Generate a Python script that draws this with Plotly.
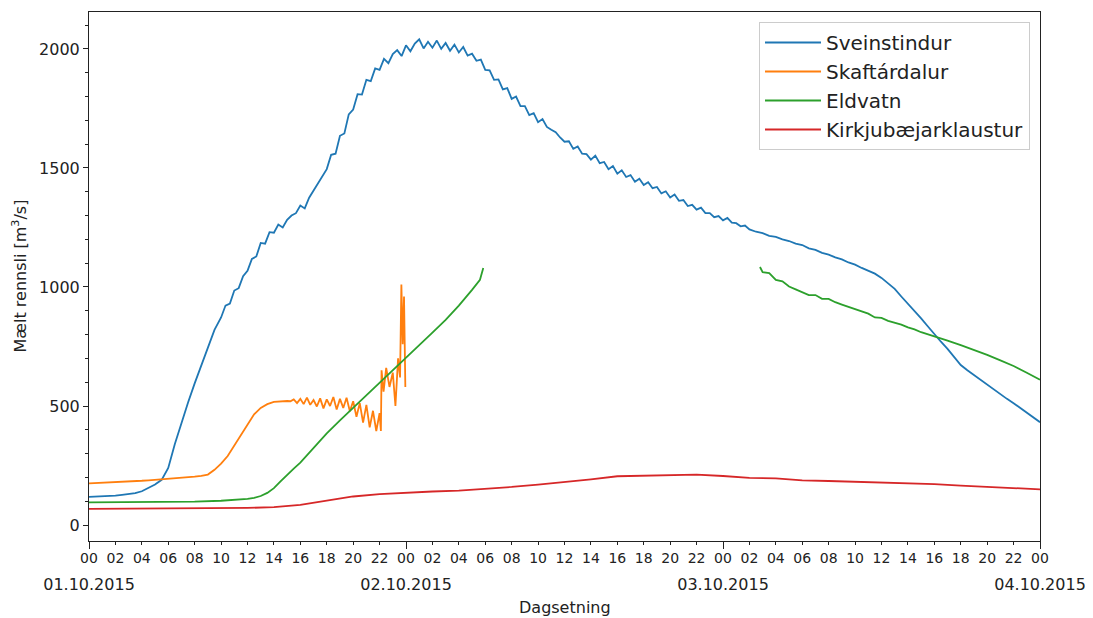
import pandas as pd
import plotly.graph_objects as go

START = pd.Timestamp("2015-10-01 00:00")
END = pd.Timestamp("2015-10-04 00:00")

# Sveinstindur: readings (sampling: 30 min until 10:00, 20 min 10:00-50:00, 30 min after)
sveinstindur_h = ([i * 0.5 for i in range(20)]
                  + [10 + i / 3 for i in range(120)]
                  + [50 + i * 0.5 for i in range(45)])
sveinstindur = [
    # 0:00 - 9:30
    118, 119, 120, 122, 124, 127, 130, 134, 142, 155,
    170, 190, 240, 340, 430, 515, 595, 668, 745, 820,
    # 10:00 - 49:40 (20 min)
    872, 922, 930, 985, 995, 1045, 1068, 1118, 1128, 1185, 1182, 1230,
    1228, 1262, 1250, 1282, 1300, 1310, 1342, 1330, 1375, 1405, 1440, 1468,
    1495, 1555, 1560, 1635, 1645, 1725, 1745, 1810, 1808, 1870, 1865, 1918,
    1912, 1958, 1940, 1978, 1995, 1970, 2015, 1990, 2022, 2040, 2002, 2030,
    2005, 2035, 2000, 2025, 1992, 2018, 1985, 2008, 1972, 1980, 1950, 1955,
    1912, 1910, 1870, 1872, 1830, 1835, 1790, 1800, 1760, 1760, 1722, 1730,
    1692, 1705, 1672, 1660, 1650, 1628, 1610, 1612, 1580, 1590, 1560, 1558,
    1535, 1552, 1520, 1525, 1495, 1508, 1476, 1490, 1462, 1470, 1442, 1455,
    1428, 1440, 1415, 1420, 1393, 1402, 1376, 1388, 1362, 1365, 1340, 1345,
    1325, 1333, 1310, 1310, 1293, 1298, 1280, 1290, 1270, 1268, 1255, 1258,
    # 50:00 - 72:00 (30 min)
    1242, 1232, 1226, 1215, 1210, 1200, 1193, 1182,
    1176, 1162, 1156, 1143, 1136, 1124, 1116, 1103, 1094, 1080, 1068, 1056,
    1038, 1015, 992, 960, 930, 900, 868, 835, 800, 770, 740, 705,
    672, 650, 630, 608, 588, 568, 550, 530, 512, 492, 472, 452,
    432,
]

# Skaftárdalur: hours after start, values
skaftardalur_h = ([i * 0.5 for i in range(31)]
                  + [15.25 + i * 0.25 for i in range(28)]
                  + [22.1, 22.15, 22.3, 22.5, 22.75, 23, 23.2, 23.4, 23.55, 23.65, 23.75, 23.85, 23.95])
skaftardalur = [
    175, 176, 178, 180, 182, 183, 184, 185, 186, 188,
    190, 192, 195, 196, 198, 200, 203, 207, 212, 232,
    258, 290, 335, 380, 425, 465, 492, 508, 517, 520,
    521,
    520, 528, 512, 530, 508, 535, 505, 525, 498, 532,
    490, 528, 500, 538, 485, 530, 492, 535, 478, 520,
    455, 512, 430, 505, 410, 480, 395, 470,
    395, 650, 560, 660, 580, 640, 500, 700, 620, 1010, 760, 960, 580,
]

# Eldvatn: two separate measurement segments
eldvatn1_h = [0, 2, 4, 6, 8, 10, 11, 12, 12.5, 13, 13.5, 14, 14.5, 15, 15.5, 16,
              17, 18, 19, 20, 21, 22, 23, 24, 25, 26, 27, 28, 29, 29.6, 29.85]
eldvatn1 = [95, 95, 95, 96, 98, 102, 105, 110, 114, 122, 135, 155, 183, 212, 237, 262,
            322, 385, 440, 492, 545, 600, 648, 700, 752, 808, 862, 922, 988, 1030, 1080]
eldvatn2_h = [50.8, 51, 51.5, 52, 52.5, 53, 53.5, 54, 54.5, 55,
              55.5, 56, 56.5, 57, 57.5, 58, 58.5, 59, 59.5, 60,
              60.5, 61, 61.5, 62, 62.5, 63, 63.5, 64,
              65, 66, 67, 68, 69, 70, 71, 72]
eldvatn2 = [1084, 1062, 1058, 1030, 1024, 1002, 990, 978, 966, 966,
            950, 950, 936, 926, 917, 906, 896, 888, 872, 870,
            858, 850, 842, 830, 822, 810, 802, 792,
            775, 756, 736, 715, 692, 668, 640, 610]

# Kirkjubæjarklaustur
kirkju_h = [0, 4, 8, 12, 14, 16, 18, 20, 22, 24, 26, 28, 30, 32, 34, 36, 38, 40,
            42, 44, 46, 48, 50, 52, 54, 56, 58, 60, 62, 64, 66, 68, 70, 72]
kirkju = [68, 69, 70, 72, 75, 85, 103, 120, 130, 137, 141, 145, 152, 160, 170, 180, 192, 205,
          208, 210, 212, 206, 198, 196, 188, 185, 182, 180, 176, 172, 166, 160, 155, 150]

# Axis ticks
hour_tick_h = list(range(0, 73, 2))
hour_tick_labels = ["00", "02", "04", "06", "08", "10", "12", "14", "16", "18", "20", "22"] * 3 + ["00"]
day_tick_h = [0, 24, 48, 72]
day_tick_labels = ["01.10.2015", "02.10.2015", "03.10.2015", "04.10.2015"]
y_ticks = [0, 500, 1000, 1500, 2000]


def to_time(hours):
    return [START + pd.Timedelta(hours=h) for h in hours]


FONT = "DejaVu Sans"
TXT = "#222222"
LW = 1.8
fig = go.Figure()
fig.add_trace(go.Scatter(x=to_time(sveinstindur_h), y=sveinstindur, mode="lines", name="Sveinstindur",
                         line=dict(color="#1f77b4", width=LW)))
fig.add_trace(go.Scatter(x=to_time(skaftardalur_h), y=skaftardalur, mode="lines", name="Skaftárdalur",
                         line=dict(color="#ff7f0e", width=LW)))
fig.add_trace(go.Scatter(x=to_time(eldvatn1_h), y=eldvatn1, mode="lines", name="Eldvatn",
                         legendgroup="eld", line=dict(color="#2ca02c", width=LW)))
fig.add_trace(go.Scatter(x=to_time(eldvatn2_h), y=eldvatn2, mode="lines", name="Eldvatn",
                         legendgroup="eld", showlegend=False, line=dict(color="#2ca02c", width=LW)))
fig.add_trace(go.Scatter(x=to_time(kirkju_h), y=kirkju, mode="lines", name="Kirkjubæjarklaustur",
                         xaxis="x2", yaxis="y", line=dict(color="#d62728", width=LW)))

OFF = 8  # default body margin of the page
W, H = 1093 - OFF, 618 - OFF
PL, PR, PT, PB = 89, 1040, 12, 541  # plot area in page pixels
L, T = PL - OFF, PT - OFF
R, B = W - (PR - OFF), H - (PB - OFF)
plot_w = W - L - R
plot_h = H - T - B


def px_x(page_x):
    return (page_x - PL) / plot_w


def px_y(page_y):
    return (PB - page_y) / plot_h


fig.update_layout(
    width=W, height=H,
    margin=dict(l=L, r=R, t=T, b=B, pad=0),
    paper_bgcolor="white", plot_bgcolor="white",
    font=dict(family=FONT, color=TXT, size=16),
    showlegend=True,
    legend=dict(x=px_x(1030), y=px_y(22), xanchor="right", yanchor="top",
                bordercolor="#cccccc", borderwidth=1, bgcolor="rgba(255,255,255,0.85)",
                font=dict(family=FONT, size=20, color=TXT), itemwidth=56, tracegroupgap=0),
    xaxis=dict(type="date", range=[START, END], tickvals=to_time(hour_tick_h), ticktext=hour_tick_labels,
               ticks="outside", ticklen=3, tickcolor=TXT, tickfont=dict(size=14), ticklabelstandoff=1,
               showline=True, linecolor=TXT, linewidth=1, mirror=True,
               showgrid=False, zeroline=False),
    xaxis2=dict(type="date", range=[START, END], overlaying="x", anchor="y", side="bottom",
                tickvals=to_time(day_tick_h), ticktext=day_tick_labels,
                ticks="outside", ticklen=7, tickcolor=TXT, tickfont=dict(size=16),
                ticklabelstandoff=22, showline=False, showgrid=False, zeroline=False),
    yaxis=dict(range=[-67, 2155], tickvals=y_ticks, ticks="outside", ticklen=5, tickcolor=TXT,
               tickfont=dict(size=16), showline=True, linecolor=TXT, linewidth=1, mirror=True,
               showgrid=False, zeroline=False,
               minor=dict(tick0=0, dtick=100, ticks="outside", ticklen=3, tickcolor=TXT)),
    annotations=[
        dict(text="Mælt rennsli [m<sup>3</sup>/s]", xref="paper", yref="paper",
             x=px_x(20), y=0.5, textangle=-90, showarrow=False,
             font=dict(size=16), xanchor="center", yanchor="middle"),
        dict(text="Dagsetning", xref="paper", yref="paper",
             x=0.5, y=px_y(607), showarrow=False,
             font=dict(size=16), xanchor="center", yanchor="middle"),
    ],
)

fig.write_html("out.html")
